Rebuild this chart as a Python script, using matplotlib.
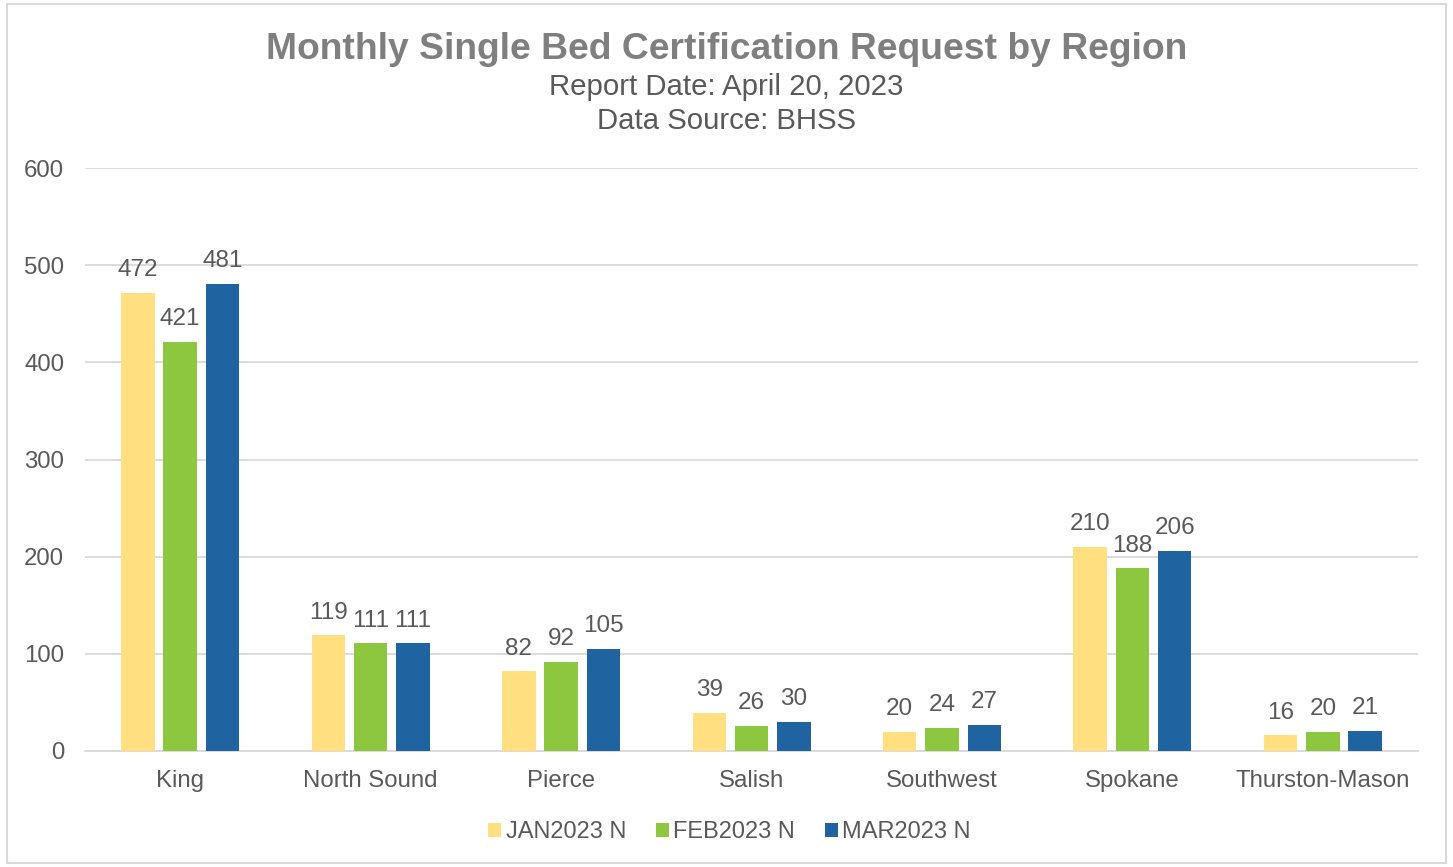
import matplotlib.pyplot as plt
import numpy as np
from matplotlib.patches import Rectangle

plt.rcParams['font.family'] = ['Liberation Sans', 'DejaVu Sans']

# Data
regions = ['King', 'North Sound', 'Pierce', 'Salish', 'Southwest', 'Spokane', 'Thurston-Mason']
jan = [472, 119, 82, 39, 20, 210, 16]
feb = [421, 111, 92, 26, 24, 188, 20]
mar = [481, 111, 105, 30, 27, 206, 21]
series_names = ['JAN2023 N', 'FEB2023 N', 'MAR2023 N']
colors = ['#FFDF7F', '#8DC63F', '#1F63A0']

text_color = '#595959'

fig = plt.figure(figsize=(14.53, 8.67), dpi=100)
ax = fig.add_axes([0.0585, 0.1338, 0.9175, 0.6722])

x = np.arange(len(regions))
offset = 0.222
width = 0.176
for i, (vals, name, col) in enumerate(zip([jan, feb, mar], series_names, colors)):
    bars = ax.bar(x + (i - 1) * offset, vals, width=width, color=col, label=name, zorder=3)
    for b, v in zip(bars, vals):
        ax.text(b.get_x() + b.get_width() / 2, v + 12, str(v), ha='center', va='bottom',
                fontsize=17.5, color=text_color)

ax.set_xlim(-0.5, len(regions) - 0.5)
ax.set_ylim(0, 600)
ax.set_yticks(range(0, 601, 100))
ax.yaxis.grid(True, color='#D9D9D9', linewidth=1.3, zorder=0)
ax.set_xticks(x)
ax.set_xticklabels(regions)
ax.tick_params(axis='both', length=0, labelsize=17.3, labelcolor=text_color)
ax.tick_params(axis='y', pad=15)
ax.tick_params(axis='x', pad=14)
for side in ['top', 'right', 'left']:
    ax.spines[side].set_visible(False)
ax.spines['bottom'].set_color('#D9D9D9')
ax.spines['bottom'].set_linewidth(1.3)

fig.text(0.5, 0.943, 'Monthly Single Bed Certification Request by Region', ha='center', va='center',
         fontsize=26.8, fontweight='bold', color='#7F7F7F')
fig.text(0.5, 0.900, 'Report Date: April 20, 2023', ha='center', va='center', fontsize=21.2, color=text_color)
fig.text(0.5, 0.861, 'Data Source: BHSS', ha='center', va='center', fontsize=21.2, color=text_color)

fig.legend(loc='center', bbox_to_anchor=(0.502, 0.040), ncol=3, frameon=False, fontsize=17,
           handlelength=0.55, handleheight=0.55, handletextpad=0.2, columnspacing=1.25,
           labelcolor=text_color)

fig.patches.append(Rectangle((0.005, 0.005), 0.99, 0.99, transform=fig.transFigure, fill=False,
                             edgecolor='#D9D9D9', linewidth=1.5))

fig.savefig('out.png', dpi=100)
